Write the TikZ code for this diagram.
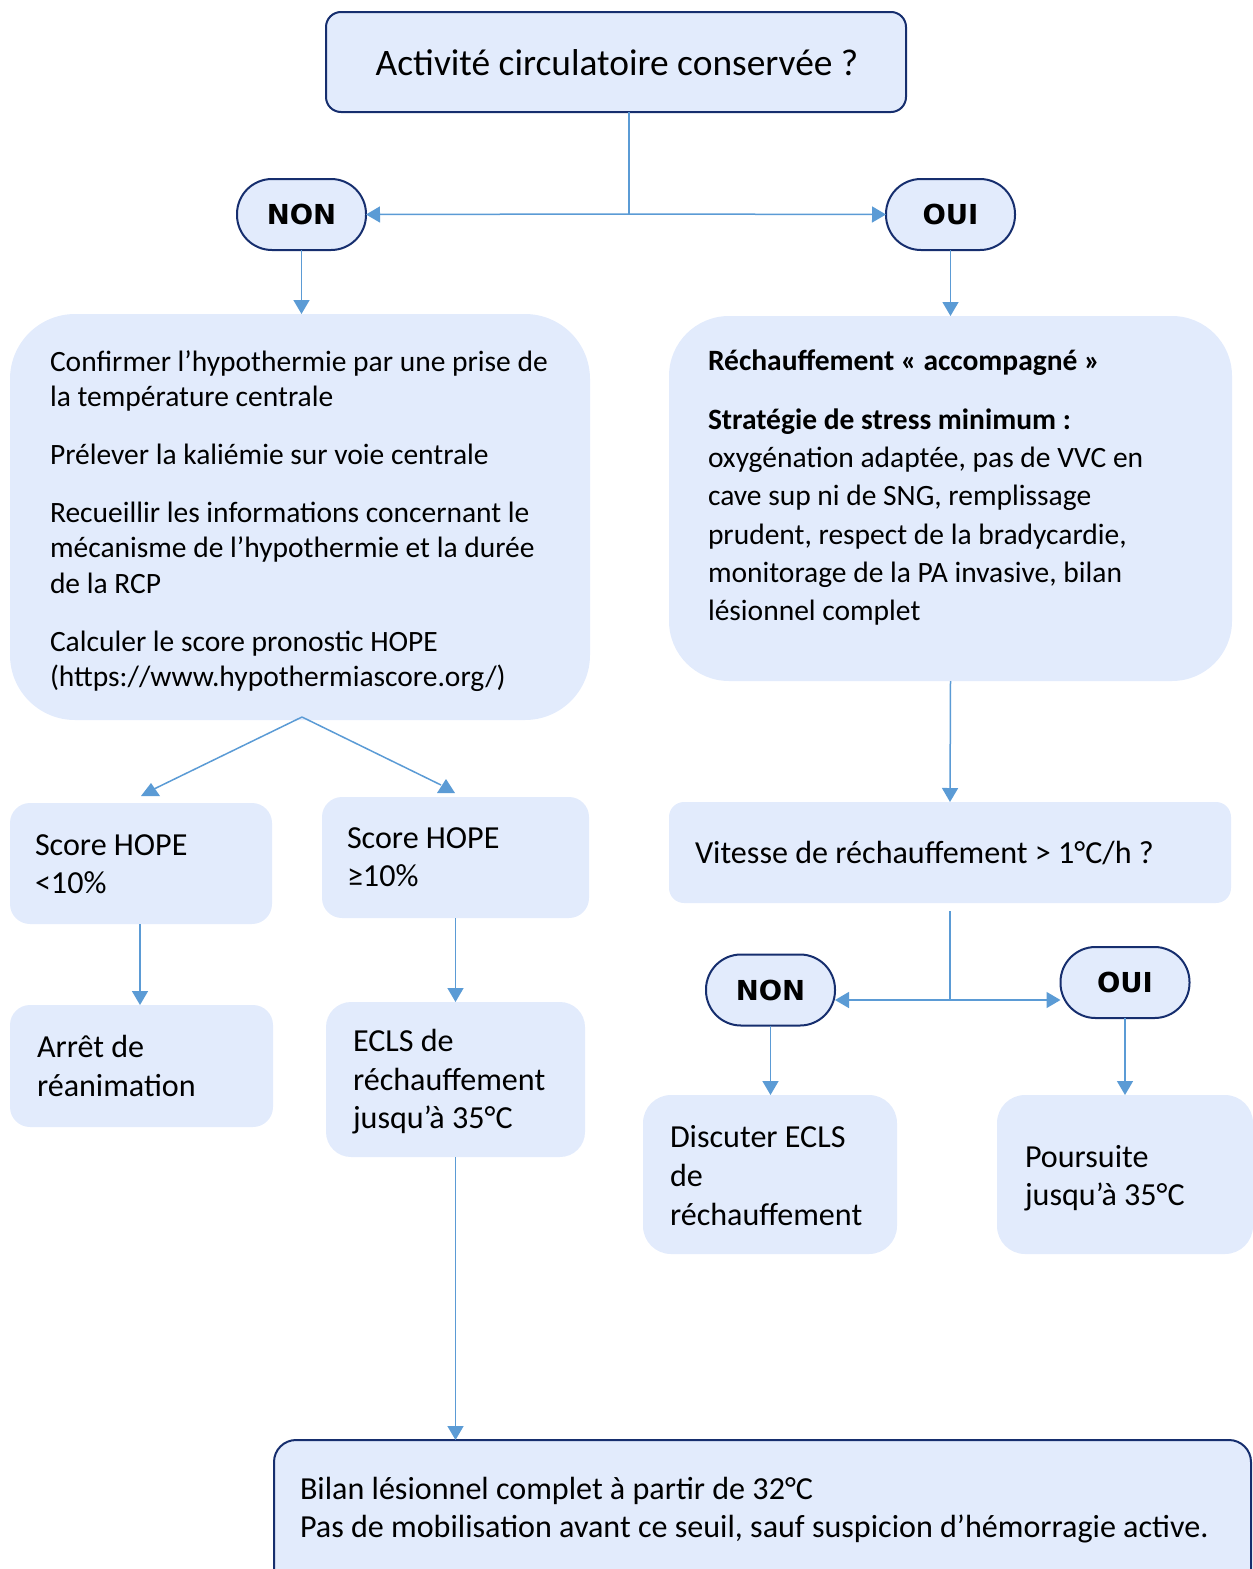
\documentclass[tikz,border=0pt]{standalone}
\usepackage{fontspec}
\setmainfont{Carlito}
\newfontfamily\pillfont{DejaVu Sans}
\usetikzlibrary{arrows.meta}
\definecolor{boxfill}{RGB}{226,235,252}
\definecolor{conncol}{RGB}{91,155,213}
\definecolor{navy}{RGB}{22,46,110}
\newcommand\natsp{\spaceskip=0pt\relax\xspaceskip=0pt\relax}
\begin{document}
\begin{tikzpicture}[x=1pt,y=-1pt,
  bx/.style={rectangle, fill=boxfill, inner sep=0pt, outer sep=0pt},
  brd/.style={draw=navy, line width=2pt},
  pill/.style={bx, brd, rounded corners=35pt, minimum width=129pt, minimum height=71pt, font=\pillfont\bfseries\fontsize{27.5}{32}\selectfont},
  txt/.style={inner sep=0pt, outer sep=0pt, align=left, anchor=base west, text width=560pt},
  conn/.style={draw=conncol, line width=1.5pt},
  arr/.style={conn, -{Triangle[length=14pt,width=16pt]}},
  tri/.style={fill=conncol},
]
\useasboundingbox (0,0) rectangle (1253,1569);

% ---------- boxes ----------
\node[bx, brd, rounded corners=15pt, minimum width=580pt, minimum height=100pt] (top) at (616,62) {};
\node[pill] (non1) at (301.5,214.5) {NON};
\node[pill] (oui1) at (950.5,214.5) {OUI};
\node[bx, rounded corners=65pt, minimum width=580pt, minimum height=406pt] (L) at (300,517) {};
\node[bx, rounded corners=60pt, minimum width=563pt, minimum height=365pt] (R) at (950.5,498.5) {};
\node[bx, rounded corners=15pt, minimum width=562pt, minimum height=101pt] (V) at (950,852.5) {};
\node[pill] (non2) at (770.5,990) {NON};
\node[pill] (oui2) at (1125,982.5) {OUI};
\node[bx, rounded corners=28pt, minimum width=254pt, minimum height=159pt] (D) at (770,1174.5) {};
\node[bx, rounded corners=28pt, minimum width=256pt, minimum height=159pt] (P) at (1125,1174.5) {};
\node[bx, rounded corners=20pt, minimum width=262pt, minimum height=121pt] (S1) at (141,863.5) {};
\node[bx, rounded corners=20pt, minimum width=267pt, minimum height=121pt] (S2) at (455.5,857.5) {};
\node[bx, rounded corners=20pt, minimum width=263pt, minimum height=122pt] (A) at (141.5,1066) {};
\node[bx, rounded corners=25pt, minimum width=259pt, minimum height=155pt] (E) at (455.5,1079.5) {};
\node[bx, brd, rounded corners=22pt, minimum width=977pt, minimum height=170pt] (B) at (762.5,1525) {};

% ---------- texts ----------
\node[inner sep=0pt, anchor=base, font=\fontsize{37.4}{45}\selectfont] (topt) at (617,75) {Activité circulatoire conservée ?};

\node[txt, font=\fontsize{29.5}{35.5}\selectfont] (Lt) at (50,371) {\natsp Confirmer l’hypothermie par une prise de\\
la température centrale\\[22.5pt]
Prélever la kaliémie sur voie centrale\\[22pt]
Recueillir les informations concernant le\\
mécanisme de l’hypothermie et la durée\\
de la RCP\\[22.5pt]
Calculer le score pronostic HOPE\\
(https://www.hypothermiascore.org/)};

\node[txt, font=\fontsize{29.5}{38.3}\selectfont] (Rt) at (708,370) {\natsp\textbf{Réchauffement « accompagné »}\\[21pt]
\textbf{Stratégie de stress minimum :}\\
oxygénation adaptée, pas de VVC en\\
cave sup ni de SNG, remplissage\\
prudent, respect de la bradycardie,\\
monitorage de la PA invasive, bilan\\
lésionnel complet};

\node[txt, font=\fontsize{32.1}{38.5}\selectfont] (Vt) at (695,863) {\natsp Vitesse de réchauffement > 1°C/h ?};
\node[txt, font=\fontsize{32.1}{38.5}\selectfont] (S1t) at (35,855) {\natsp Score HOPE\\<10\%};
\node[txt, font=\fontsize{32.1}{38.5}\selectfont] (S2t) at (347,848) {\natsp Score HOPE\\≥10\%};
\node[txt, font=\fontsize{32.1}{39.5}\selectfont] (At) at (37,1057) {\natsp Arrêt de\\réanimation};
\node[txt, font=\fontsize{32.1}{38.5}\selectfont] (Et) at (353,1051.5) {\natsp ECLS de\\réchauffement\\jusqu’à 35°C};
\node[txt, font=\fontsize{32.1}{39}\selectfont] (Dt) at (670,1147) {\natsp Discuter ECLS\\de\\réchauffement};
\node[txt, font=\fontsize{32.1}{38.5}\selectfont] (Pt) at (1025,1167) {\natsp Poursuite\\jusqu’à 35°C};
\node[txt, text width=940pt, font=\fontsize{32.1}{38}\selectfont] (Bt) at (300,1499) {\natsp Bilan lésionnel complet à partir de 32°C\\
Pas de mobilisation avant ce seuil, sauf suspicion d’hémorragie active.};

% ---------- connectors ----------
\coordinate (j1) at (629,214);
\draw[conn] (top.south -| j1) -- (j1);
\draw[arr] (j1) -- (non1.east);
\draw[arr] (j1) -- (oui1.west);
\draw[arr] (non1.south) -- (non1.south |- L.north);
\draw[arr] (oui1.south) -- (oui1.south |- R.north);
\draw[arr] (R.south) -- (V.north);

\coordinate (j2a) at (950,911);
\coordinate (j2) at (950,1000);
\draw[conn] (j2a) -- (j2);
\draw[arr] (j2) -- (j2 -| non2.east);
\draw[arr] (j2) -- (j2 -| oui2.west);
\draw[arr] (non2.south) -- (non2.south |- D.north);
\draw[arr] (oui2.south) -- (oui2.south |- P.north);

% HOPE branching
\coordinate (ap) at (302,717);
\coordinate (t1) at (154,789);
\coordinate (t2) at (441,785);
\draw[conn] (ap) -- (t1);
\draw[conn] (ap) -- (t2);
\fill[tri] (151,783) -- (141,796) -- (160,796) -- cycle;
\fill[tri] (446,779) -- (437,793) -- (455,793) -- cycle;

\coordinate (s1x) at (140,0);
\draw[arr] (S1.south -| s1x) -- (A.north -| s1x);
\draw[arr] (S2.south) -- (E.north);
\draw[arr] (E.south) -- (E.south |- B.north);
\end{tikzpicture}
\end{document}
